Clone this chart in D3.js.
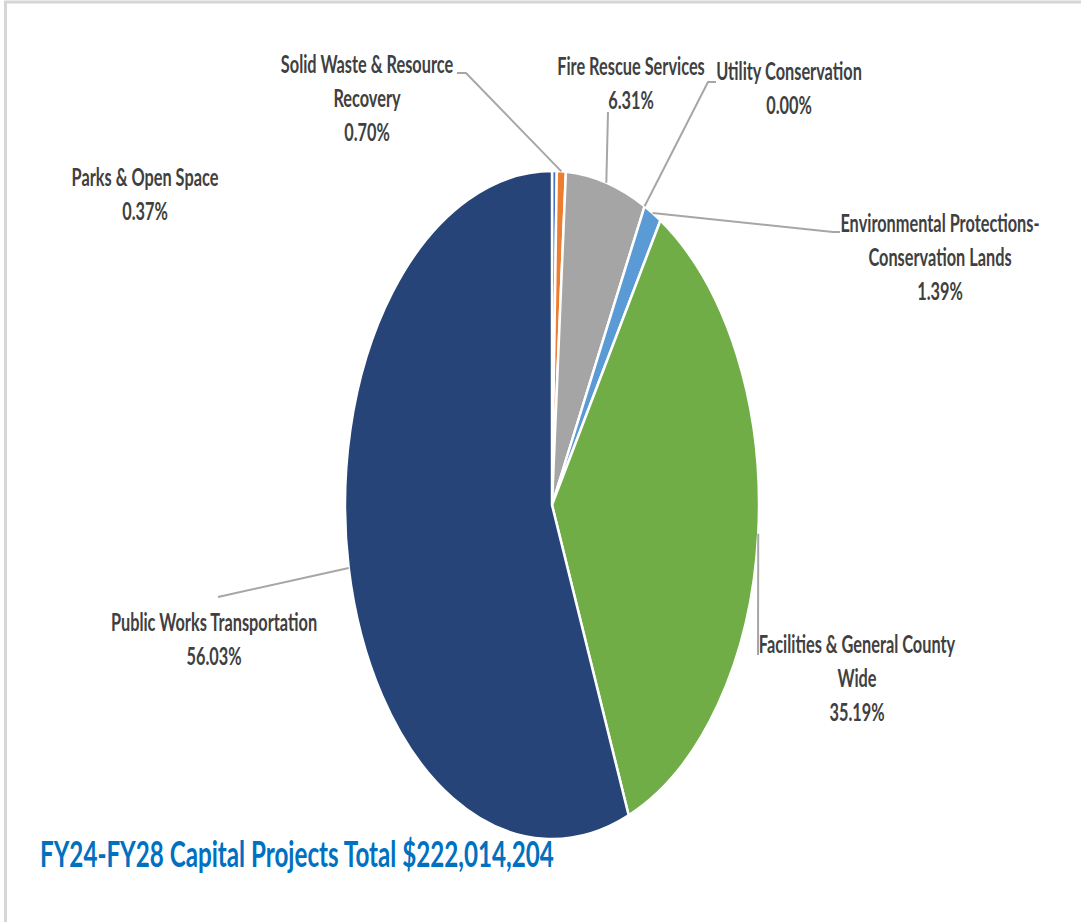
<!DOCTYPE html>
<html lang="en">
<head>
    <meta charset="UTF-8">
    <title>FY24-FY28 Capital Projects</title>
    <style>
        body { margin: 0; background: #fff; }
        .label text {
            font-family: Lato, "Open Sans", sans-serif;
            font-weight: bold;
            font-size: 24px;
            fill: #404040;
            text-anchor: middle;
        }
        .title {
            font-family: Lato, "Open Sans", sans-serif;
            font-weight: bold;
            font-size: 36px;
            fill: #0070C0;
        }
        .leader {
            fill: none;
            stroke: #A6A6A6;
            stroke-width: 2px;
        }
    </style>
</head>
<body>
    <svg width="1081" height="922"></svg>
    <script src="https://d3js.org/d3.v7.min.js"></script>
    <script>
        // data, clockwise from 12 o'clock
        const categories = [
            "Parks & Open Space",
            "Solid Waste & Resource Recovery",
            "Fire Rescue Services",
            "Utility Conservation",
            "Environmental Protections-Conservation Lands",
            "Facilities & General County Wide",
            "Public Works Transportation"
        ];
        const shares = [0.37, 0.70, 6.31, 0.00, 1.39, 35.19, 56.03];
        const colors = ["#4472C4", "#ED7D31", "#A5A5A5", "#FFC000", "#5B9BD5", "#70AD47", "#264478"];
        const labelLines = [
            ["Parks & Open Space"],
            ["Solid Waste & Resource", "Recovery"],
            ["Fire Rescue Services"],
            ["Utility Conservation"],
            ["Environmental Protections-", "Conservation Lands"],
            ["Facilities & General County", "Wide"],
            ["Public Works Transportation"]
        ];
        const totalText = "FY24-FY28 Capital Projects Total $222,014,204";

        // layout: label centre x / first baseline y, and leader elbow+end points
        const layout = [
            { x: 145, y: 186, leader: null },
            { x: 367, y: 73, leader: [[466, 73], [457, 73]] },
            { x: 631, y: 75, leader: [[608, 112]] },
            { x: 789, y: 80, leader: [[708, 82], [716, 82]] },
            { x: 940, y: 232, leader: [[833, 232], [840, 232]] },
            { x: 857, y: 653, leader: [[758, 655]] },
            { x: 214, y: 631, leader: [[218, 597]] }
        ];

        const svg = d3.select("svg");
        const cx = 552, cy = 505, rx = 207, ry = 334;
        const lineH = 34, sx = 0.68, titleSx = 0.672;

        // frame lines (top + left)
        svg.append("path")
            .attr("d", "M5.5,922 V2 H1081")
            .style("fill", "none")
            .style("stroke", "#D6D6D6")
            .style("stroke-width", "3px");

        const data = categories.map((c, i) => ({ name: c, value: shares[i], i }));
        const pie = d3.pie().sort(null).value(d => d.value);
        const arcs = pie(data);
        const arc = d3.arc().innerRadius(0).outerRadius(ry);

        // pie is squeezed horizontally into an ellipse
        const g = svg.append("g")
            .attr("transform", `translate(${cx},${cy}) scale(${rx / ry},1)`);

        g.selectAll("path")
            .data(arcs.filter(d => d.data.value > 0))
            .enter().append("path")
            .attr("d", arc)
            .style("fill", d => colors[d.data.i])
            .style("stroke", "#fff")
            .style("stroke-width", "2.5px")
            .attr("vector-effect", "non-scaling-stroke");

        // leader lines from the middle of each slice's rim
        arcs.forEach((a, i) => {
            const lay = layout[i];
            if (!lay.leader) return;
            const mid = (a.startAngle + a.endAngle) / 2;
            const p0 = [cx + rx * Math.sin(mid), cy - ry * Math.cos(mid)];
            svg.append("path")
                .attr("class", "leader")
                .attr("d", d3.line()([p0, ...lay.leader]));
        });

        // labels
        const fmt = d3.format(".2f");
        const lbl = svg.selectAll(".label")
            .data(arcs)
            .enter().append("g")
            .attr("class", "label")
            .attr("transform", (d, i) => `translate(${layout[i].x},${layout[i].y}) scale(${sx},1)`);

        lbl.each(function (d, i) {
            const lines = labelLines[i].concat(fmt(d.data.value) + "%");
            d3.select(this).selectAll("text")
                .data(lines)
                .enter().append("text")
                .attr("y", (t, j) => j * lineH)
                .text(t => t);
        });

        svg.append("text")
            .attr("class", "title")
            .attr("transform", `translate(40,867) scale(${titleSx},1)`)
            .text(totalText);
    </script>
</body>
</html>
